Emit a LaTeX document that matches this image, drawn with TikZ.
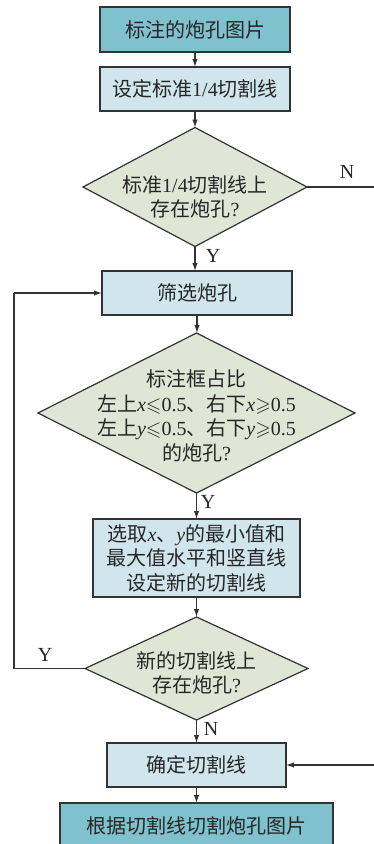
\documentclass[tikz,border=0pt]{standalone}
\usepackage{amssymb}
\usepackage{fontspec}
\setmainfont{Liberation Serif}
\newfontfamily\cjk{Noto Sans CJK SC}
\newcommand\zh[1]{{\cjk #1}}
\usetikzlibrary{shapes.geometric,arrows.meta}
\definecolor{tealbox}{HTML}{7FC1CD}
\definecolor{lightbox}{HTML}{D0E6EC}
\definecolor{decfill}{HTML}{E0E6D5}
\definecolor{edge}{HTML}{333333}
\definecolor{ink}{HTML}{262626}
\tikzset{
  base/.style={draw=edge, line width=1.2pt, inner sep=0pt, outer sep=0pt},
  topbox/.style={base, rectangle, fill=tealbox},
  procbox/.style={base, rectangle, fill=lightbox},
  decision/.style={base, diamond, fill=decfill, aspect=1},
  txt/.style={align=center, text=ink, inner sep=0pt, font=\fontsize{20}{24.5}\selectfont},
  lbl/.style={text=ink, inner sep=0pt, font=\fontsize{20}{24}\selectfont},
  arr/.style={draw=edge, line width=1.2pt, -{Latex[length=8pt,width=5.5pt]}},
  ln/.style={draw=edge, line width=1.2pt}
}
\begin{document}
\begin{tikzpicture}[x=1pt,y=-1pt]
\useasboundingbox (0,0) rectangle (373,844);
% boxes
\node[topbox, minimum width=190pt, minimum height=45pt] (b1) at (195,29.5) {};
\node[txt] (t1) at (b1) {\zh{标注的炮孔图片}};
\node[procbox, minimum width=190pt, minimum height=44pt] (b2) at (195,89) {};
\node[txt] (t2) at (b2) {\zh{设定标准}1/4\zh{切割线}};
\node[decision, minimum width=224pt, minimum height=119pt] (d1) at (195,187) {};
\node[txt] (t3) at (195,197) {\zh{标准}1/4\zh{切割线上}\\\zh{存在炮孔}?};
\node[procbox, minimum width=190pt, minimum height=44pt] (b3) at (197,293) {};
\node[txt] (t4) at (b3) {\zh{筛选炮孔}};
\node[decision, minimum width=317pt, minimum height=160pt] (d2) at (196.5,413) {};
\node[txt] (t5) at (196.5,416) {\zh{标注框占比}\\
  \zh{左上}\textit{x}$\leqslant$0.5\zh{、右下}\textit{x}$\geqslant$0.5\\
  \zh{左上}\textit{y}$\leqslant$0.5\zh{、右下}\textit{y}$\geqslant$0.5\\
  \zh{的炮孔}?};
\node[procbox, minimum width=207pt, minimum height=78pt] (b4) at (196.5,558) {};
\node[txt] (t6) at (b4) {\zh{选取}\textit{x}\zh{、}\textit{y}\zh{的最小值和}\\\zh{最大值水平和竖直线}\\\zh{设定新的切割线}};
\node[decision, minimum width=223pt, minimum height=103pt] (d3) at (196.5,668.5) {};
\node[txt] (t7) at (196.5,673) {\zh{新的切割线上}\\\zh{存在炮孔}?};
\node[procbox, minimum width=179pt, minimum height=44pt] (b5) at (196.5,765) {};
\node[txt] (t8) at (b5) {\zh{确定切割线}};
\node[topbox, minimum width=273pt, minimum height=46pt] (b6) at (196.5,826) {};
\node[txt] (t9) at (b6) {\zh{根据切割线切割炮孔图片}};
% helper coordinates
\coordinate (rc1) at (380,187);
\coordinate (rc2) at (380,765);
\coordinate (lc1) at (14,668.5);
\coordinate (lc2) at (14,293);
% connectors
\draw[arr] (b1) -- (b2);
\draw[arr] (b2) -- (d1);
\draw[arr] (d1) -- (b3.north -| d1.south);
\draw[arr] (b3) -- (d2.north -| b3.south);
\draw[arr] (d2) -- (b4);
\draw[arr] (b4) -- (d3);
\draw[arr] (d3) -- (b5);
\draw[arr] (b5) -- (b6);
\draw[ln] (d1.east) -- (rc1) -- (rc2);
\draw[arr] (rc2) -- (b5.east);
\draw[ln] (d3.west) -- (lc1) -- (lc2);
\draw[arr] (lc2) -- (b3.west);
% labels
\node[lbl] (ly1) at (213,256) {Y};
\node[lbl] (ln1) at (347,172) {N};
\node[lbl] (ly2) at (208,502) {Y};
\node[lbl] (ly3) at (45,655) {Y};
\node[lbl] (ln2) at (211,729) {N};
\end{tikzpicture}
\end{document}
